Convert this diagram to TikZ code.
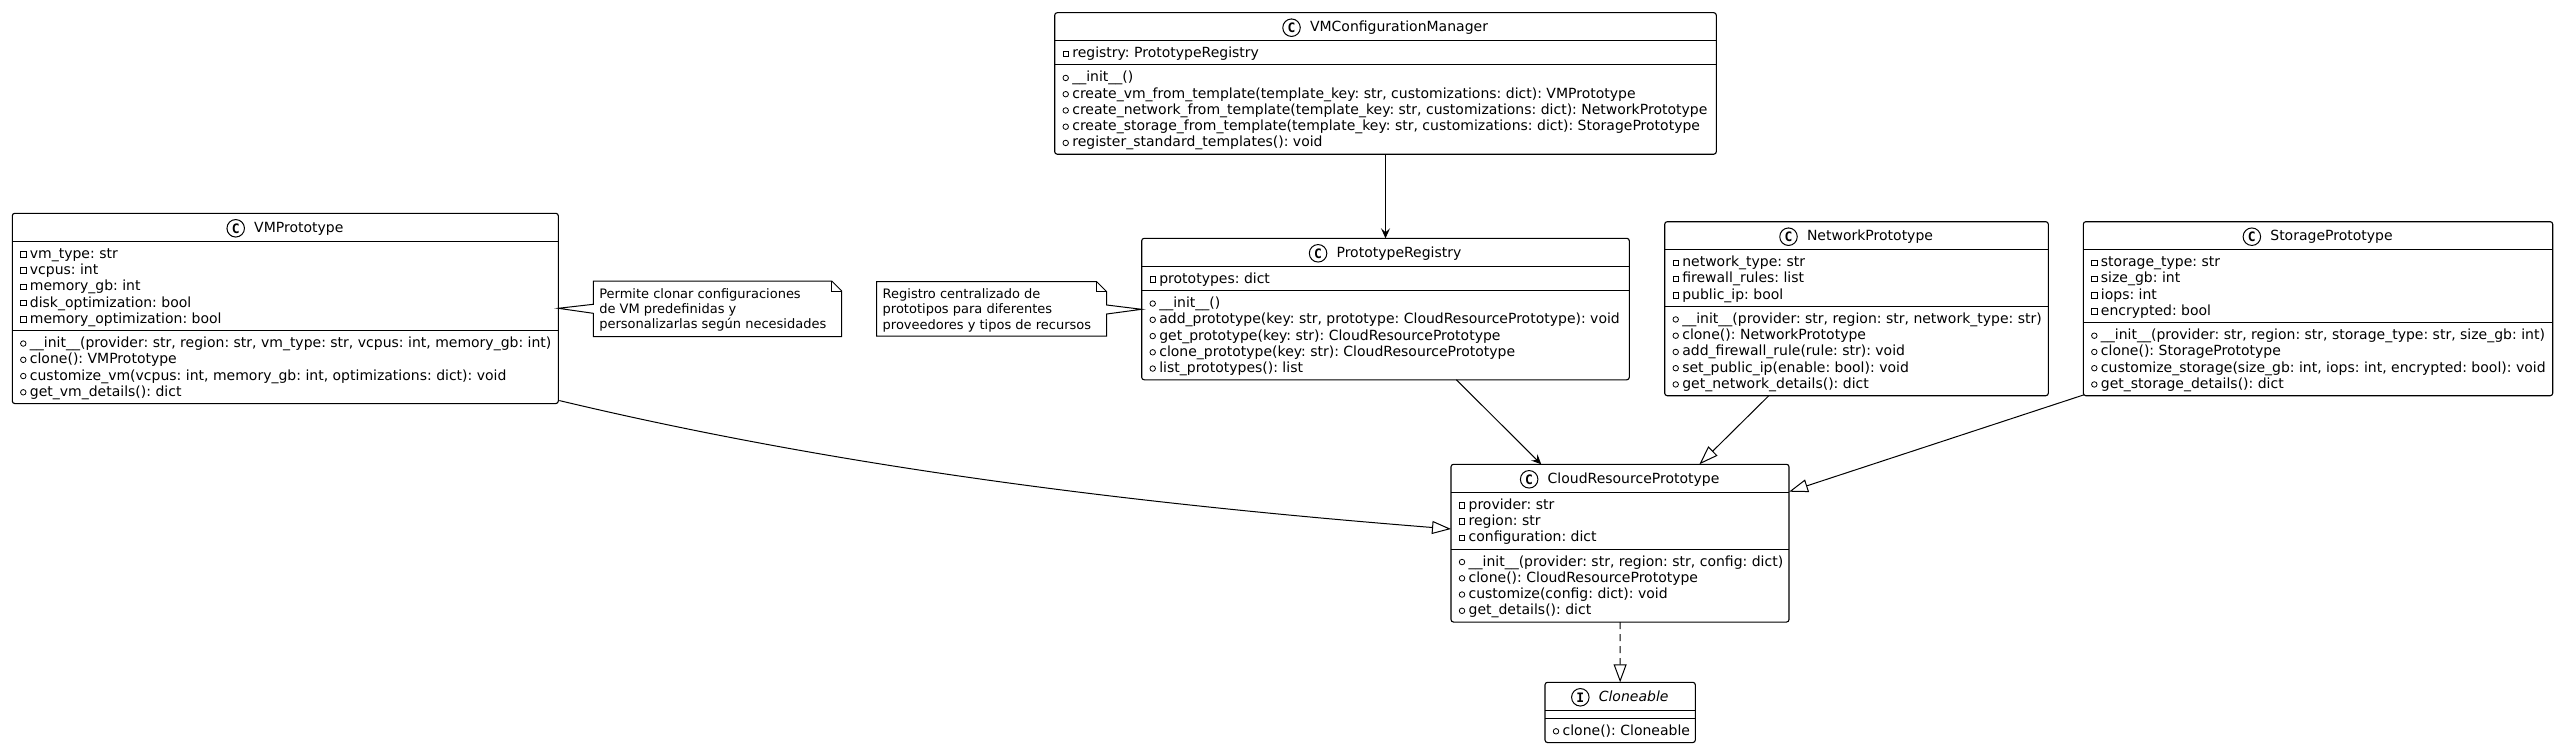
\documentclass[tikz,border=0pt]{standalone}
\usepackage{fontspec}
\setmainfont{DejaVu Sans}[ItalicFont={DejaVu Sans Oblique},BoldFont={DejaVu Sans Bold}]
\newfontfamily\iconfont{DejaVu Sans Mono Bold}
\usetikzlibrary{arrows.meta,calc,fit}
\frenchspacing
\newcommand\rowsp{16.25}
\tikzset{
  box/.style={draw, line width=1.1bp, rounded corners=2.5bp, fill=white, inner sep=0pt, outer sep=0pt},
  sepline/.style={line width=1bp},
  rowtxt/.style={anchor=base west, inner sep=0pt, outer sep=0pt, font=\fontsize{14bp}{16.25bp}\selectfont\frenchspacing},
  titletxt/.style={anchor=base, inner sep=0pt, outer sep=0pt, font=\fontsize{14bp}{16.25bp}\selectfont},
  classicon/.style={circle, draw, line width=1bp, minimum size=17.5bp, inner sep=0pt, font=\iconfont\fontsize{13bp}{13bp}\selectfont},
  privicon/.style={rectangle, draw, line width=0.8bp, minimum size=5.5bp, inner sep=0pt},
  pubicon/.style={circle, draw, line width=0.8bp, minimum size=5.5bp, inner sep=0pt},
  notebox/.style={draw, line width=1bp, fill=white, line join=miter},
  notetxt/.style={anchor=base west, inner sep=0pt, outer sep=0pt, font=\fontsize{13bp}{15.1bp}\selectfont\frenchspacing},
  assoc/.style={line width=1bp, -{Stealth[length=10bp,width=9bp,inset=4bp]}},
  inherit/.style={line width=1bp, -{Triangle[open,length=19bp,width=13bp,fill=white]}},
  realize/.style={line width=1bp, -{Triangle[open,length=18bp,width=13bp,fill=white]}, dash pattern=on 7bp off 5bp}
}
\newcommand\umlclass[8]{%
  \pgfmathsetmacro\hA{#4+28}%
  \pgfmathsetmacro\hM{\hA+8+#5*\rowsp}%
  \pgfmathsetmacro\hB{\hM+8+#6*\rowsp}%
  \node[box, fit={(#2,#4) (#3,\hB)}] (#1) {};
  \draw[sepline] (#2,\hA) -- (#3,\hA);
  \draw[sepline] (#2,\hM) -- (#3,\hM);
  \node[titletxt] (#1-name) at ({(#2+#3)/2+13.5},#4+19) {#8};
  \node[classicon] (#1-icon) at ($(#1-name.base west)+(-18.5,-4)$) {#7};
  \xdef\secA{\hA}\xdef\secM{\hM}%
}
\newcommand\umlrows[5]{%
  \foreach \t [count=\i from 0] in {#5} {
    \pgfmathsetmacro\yb{#3+17+\i*\rowsp}
    \node[rowtxt] (#1\i) at (#2+17.6,\yb) {\t};
    \node[#4] (#1i\i) at (#2+11,\yb-4) {};
  }
}
\begin{document}
\begin{tikzpicture}[x=1bp,y=-1bp]
\useasboundingbox (0,0) rectangle (2558,748);
\fill[white] (0,0) rectangle (2558,748);

% VMConfigurationManager
\umlclass{vmcm}{1054.7}{1716.3}{12.7}{1}{5}{C}{VMConfigurationManager}
\umlrows{vmcma}{1054.7}{\secA}{privicon}{{registry: PrototypeRegistry}}
\umlrows{vmcmm}{1054.7}{\secM}{pubicon}{{\_\_init\_\_()},{create\_vm\_from\_template(template\_key: str, customizations: dict): VMPrototype},{create\_network\_from\_template(template\_key: str, customizations: dict): NetworkPrototype},{create\_storage\_from\_template(template\_key: str, customizations: dict): StoragePrototype},{register\_standard\_templates(): void}}

% VMPrototype
\umlclass{vmp}{12.3}{558.3}{213.3}{5}{4}{C}{VMPrototype}
\umlrows{vmpa}{12.3}{\secA}{privicon}{{vm\_type: str},{vcpus: int},{memory\_gb: int},{disk\_optimization: bool},{memory\_optimization: bool}}
\umlrows{vmpm}{12.3}{\secM}{pubicon}{{\_\_init\_\_(provider: str, region: str, vm\_type: str, vcpus: int, memory\_gb: int)},{clone(): VMPrototype},{customize\_vm(vcpus: int, memory\_gb: int, optimizations: dict): void},{get\_vm\_details(): dict}}

% PrototypeRegistry
\umlclass{pr}{1141.7}{1629.3}{238.3}{1}{5}{C}{PrototypeRegistry}
\umlrows{pra}{1141.7}{\secA}{privicon}{{prototypes: dict}}
\umlrows{prm}{1141.7}{\secM}{pubicon}{{\_\_init\_\_()},{add\_prototype(key: str, prototype: CloudResourcePrototype): void},{get\_prototype(key: str): CloudResourcePrototype},{clone\_prototype(key: str): CloudResourcePrototype},{list\_prototypes(): list}}

% NetworkPrototype
\umlclass{net}{1664.7}{2048.3}{221.7}{3}{5}{C}{NetworkPrototype}
\umlrows{neta}{1664.7}{\secA}{privicon}{{network\_type: str},{firewall\_rules: list},{public\_ip: bool}}
\umlrows{netm}{1664.7}{\secM}{pubicon}{{\_\_init\_\_(provider: str, region: str, network\_type: str)},{clone(): NetworkPrototype},{add\_firewall\_rule(rule: str): void},{set\_public\_ip(enable: bool): void},{get\_network\_details(): dict}}

% StoragePrototype
\umlclass{sto}{2083.3}{2552.7}{221.7}{4}{4}{C}{StoragePrototype}
\umlrows{stoa}{2083.3}{\secA}{privicon}{{storage\_type: str},{size\_gb: int},{iops: int},{encrypted: bool}}
\umlrows{stom}{2083.3}{\secM}{pubicon}{{\_\_init\_\_(provider: str, region: str, storage\_type: str, size\_gb: int)},{clone(): StoragePrototype},{customize\_storage(size\_gb: int, iops: int, encrypted: bool): void},{get\_storage\_details(): dict}}

% CloudResourcePrototype
\umlclass{cloud}{1451}{1789}{464.3}{3}{4}{C}{CloudResourcePrototype}
\umlrows{clouda}{1451}{\secA}{privicon}{{provider: str},{region: str},{configuration: dict}}
\umlrows{cloudm}{1451}{\secM}{pubicon}{{\_\_init\_\_(provider: str, region: str, config: dict)},{clone(): CloudResourcePrototype},{customize(config: dict): void},{get\_details(): dict}}

% Cloneable
\umlclass{clo}{1545}{1695.3}{682.3}{0}{1}{I}{\itshape Cloneable}
\umlrows{clom}{1545}{\secM}{pubicon}{{clone(): Cloneable}}

% Note 1
\coordinate (n1y) at (0,308.3);
\coordinate (n1tip) at (vmp.east |- n1y);
\draw[notebox] (593.3,281) -- (831.7,281) -- (841.7,291) -- (841.7,336.7) -- (593.3,336.7) -- (593.3,313.3) -- (n1tip) -- (593.3,304.3) -- cycle;
\draw[notebox, fill=none] (831.7,281) -- (831.7,291) -- (841.7,291);
\node[notetxt] (n1a) at (599.3,298.1) {Permite clonar configuraciones};
\node[notetxt] (n1b) at (599.3,313.2) {de VM predefinidas y};
\node[notetxt] (n1c) at (599.3,328.3) {personalizarlas según necesidades};

% Note 2
\coordinate (n2y) at (0,309.3);
\coordinate (n2tip) at (pr.west |- n2y);
\draw[notebox] (876.7,281.7) -- (1096.7,281.7) -- (1106.7,291.7) -- (1106.7,305) -- (n2tip) -- (1106.7,314) -- (1106.7,336) -- (876.7,336) -- cycle;
\draw[notebox, fill=none] (1096.7,281.7) -- (1096.7,291.7) -- (1106.7,291.7);
\node[notetxt] (n2a) at (882.7,298.8) {Registro centralizado de};
\node[notetxt] (n2b) at (882.7,313.9) {prototipos para diferentes};
\node[notetxt] (n2c) at (882.7,329) {proveedores y tipos de recursos};

% Connectors
\draw[assoc] (vmcm.south) -- (pr.north);
\draw[assoc] (pr) -- (cloud);
\draw[inherit] (net) -- (cloud);
\draw[inherit] ($(sto.south west)+(1,-1)$) -- ($(cloud.north east)+(0,27.4)$);
\draw[inherit] ($(vmp.south east)+(1,-3)$) .. controls (850,470) and (1150,505) .. ($(cloud.west)+(0,-14.2)$);
\draw[realize] (cloud.south) -- (clo.north);
\end{tikzpicture}
\end{document}
